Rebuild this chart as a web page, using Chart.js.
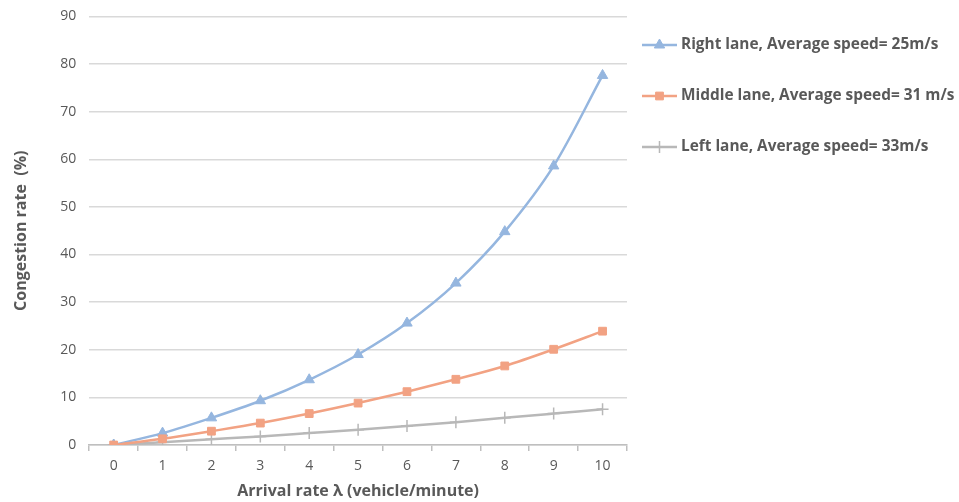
<!DOCTYPE html>
<html>
<head>
<meta charset="utf-8">
<script src="https://cdn.jsdelivr.net/npm/chart.js@4"></script>
<style>
  body { margin: 0; background: #fff; overflow: hidden; }
  #wrap { width: 959px; height: 502px; overflow: hidden; }
  #chart { display: block; margin-top: -5px; }
</style>
</head>
<body>
<div id="wrap"><canvas id="chart" width="959" height="507"></canvas></div>
<script>
const categories = ['0', '1', '2', '3', '4', '5', '6', '7', '8', '9', '10'];
const rightLane = [0, 2.5, 5.7, 9.3, 13.7, 19.0, 25.6, 34.0, 44.8, 58.6, 77.6];
const middleLane = [0, 1.3, 2.9, 4.6, 6.6, 8.8, 11.2, 13.8, 16.6, 20.1, 23.9];
const leftLane = [0, 0.6, 1.2, 1.8, 2.5, 3.2, 4.0, 4.8, 5.7, 6.6, 7.5];
const seriesNames = [
    'Right lane, Average speed= 25m/s',
    'Middle lane, Average speed= 31 m/s',
    'Left lane, Average speed= 33m/s'
];
const yTicks = [0, 10, 20, 30, 40, 50, 60, 70, 80, 90];

const textColor = '#595959';
const fontFamily = "'Open Sans', 'Liberation Sans', sans-serif";

// legend drawn on the canvas, to the right of the plot (canvas is shifted up 5px)
const sideLegend = {
    id: 'sideLegend',
    afterDraw(chart) {
        const ctx = chart.ctx;
        const x0 = 642, rowY = [50, 101, 152];
        chart.data.datasets.forEach((ds, i) => {
            const y = rowY[i];
            ctx.save();
            ctx.strokeStyle = ds.borderColor;
            ctx.lineWidth = 2.5;
            ctx.beginPath();
            ctx.moveTo(x0, y);
            ctx.lineTo(x0 + 35, y);
            ctx.stroke();
            ctx.fillStyle = ds.pointBackgroundColor;
            ctx.strokeStyle = ds.pointBorderColor;
            ctx.lineWidth = ds.pointBorderWidth;
            Chart.helpers.drawPoint(ctx, {
                pointStyle: ds.pointStyle,
                radius: ds.pointRadius,
                rotation: 0,
                borderWidth: ds.pointBorderWidth
            }, x0 + 17.5, y);
            ctx.fillStyle = textColor;
            ctx.font = "bold 15.4px " + fontFamily;
            ctx.textBaseline = 'middle';
            ctx.fillText(seriesNames[i], x0 + 39, y);
            ctx.restore();
        });
    }
};

function series(label, data, color, style, radius, order) {
    return {
        label: label,
        data: data,
        order: order,
        borderColor: color,
        backgroundColor: color,
        pointBackgroundColor: color,
        pointBorderColor: color,
        borderWidth: 2.5,
        pointStyle: style,
        pointRadius: radius,
        pointBorderWidth: style === 'cross' ? 1.5 : 1,
        tension: 0.3,
        cubicInterpolationMode: 'monotone'
    };
}

new Chart(document.getElementById('chart'), {
    type: 'line',
    data: {
        labels: categories,
        datasets: [
            series(seriesNames[0], rightLane, '#95B6DF', 'triangle', 6, 1),
            series(seriesNames[1], middleLane, '#F2A283', 'rect', 5.5, 0),
            series(seriesNames[2], leftLane, '#B8B8B8', 'cross', 6, 2)
        ]
    },
    options: {
        responsive: false,
        animation: false,
        layout: { padding: { top: 0, right: 332, left: 12, bottom: 1 } },
        plugins: {
            legend: { display: false },
            tooltip: { enabled: false }
        },
        scales: {
            x: {
                offset: true,
                grid: {
                    offset: true,
                    drawOnChartArea: false,
                    drawTicks: true,
                    tickLength: 6,
                    color: '#BFBFBF',
                    lineWidth: 1.5
                },
                border: { color: '#BFBFBF', width: 1.5 },
                ticks: { color: textColor, font: { size: 14, family: fontFamily }, padding: 7 },
                title: {
                    display: true,
                    text: 'Arrival rate λ (vehicle/minute)',
                    color: textColor,
                    font: { size: 16, weight: 'bold', family: fontFamily },
                    padding: { top: 0, bottom: 0 }
                }
            },
            y: {
                min: 0,
                max: 90,
                afterBuildTicks(axis) { axis.ticks = yTicks.map(v => ({ value: v })); },
                grid: { color: '#D9D9D9', lineWidth: 1.5, drawTicks: false },
                border: { display: false },
                ticks: { color: textColor, font: { size: 14, family: fontFamily }, padding: 13 },
                title: {
                    display: true,
                    text: 'Congestion rate  (%)',
                    color: textColor,
                    font: { size: 16, weight: 'bold', family: fontFamily },
                    padding: { top: 0, bottom: 16 }
                }
            }
        }
    },
    plugins: [sideLegend]
});
</script>
</body>
</html>
